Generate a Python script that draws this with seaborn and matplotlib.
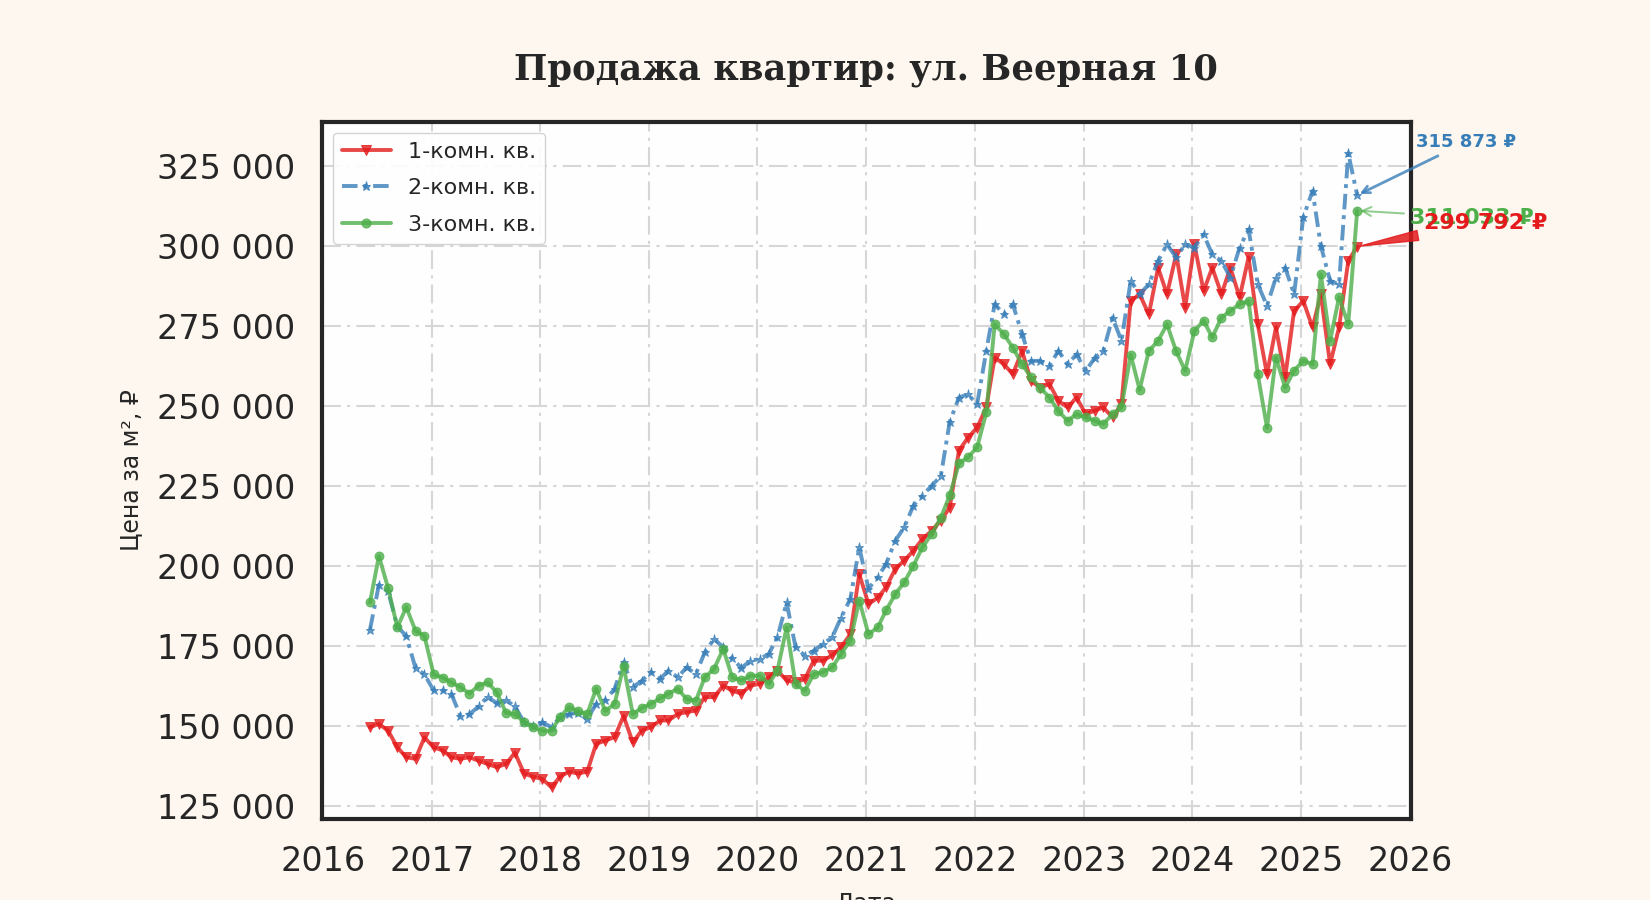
import pandas as pd
import matplotlib.pyplot as plt
import matplotlib.dates as mdates
import matplotlib.ticker as mticker
import seaborn as sns

# Цена за м² по месяцам, с июня 2016 по июль 2025
red_1k = [
    149500, 150500, 148400, 143200, 140100, 139600, 146300,
    143200, 142200, 140100, 139600, 140100, 139000, 138000, 137000, 138000, 141500, 135000, 134000,
    133300, 130700, 134000, 135600, 135000, 135600, 144300, 145300, 146400, 153000, 144800, 148400,
    149500, 151600, 151600, 153600, 154200, 154700, 158900, 158900, 162500, 160900, 160000, 162500,
    163000, 165100, 167200, 164100, 163500, 164500, 170300, 170300, 172000, 174500, 178600, 197400,
    188000, 190000, 193200, 199000, 201600, 204700, 208300, 210900, 214100, 218200, 236000, 240000,
    243200, 249500, 265100, 263000, 259900, 267200, 257800, 255700, 256800, 251600, 249500, 252600,
    247400, 248500, 249500, 246400, 250500, 282800, 284900, 278600, 293200, 284900, 297400, 280700,
    300500, 285900, 293200, 284900, 293200, 283900, 296400, 275500, 259900, 274500, 258900, 279700,
    282800, 274500, 284900, 263000, 274500, 295300, 299792,
]
blue_2k = [
    180000, 194000, 192000, 181000, 178000, 168000, 166000,
    161000, 161000, 160000, 153000, 153500, 156000, 159000, 157000, 158000, 156000, 151000, 150000,
    151000, 149500, 152600, 153600, 154000, 152000, 156800, 158000, 161500, 169800, 162000, 164000,
    166700, 164600, 167200, 165100, 168200, 166100, 172900, 177100, 174500, 171000, 168000, 170300,
    170800, 172400, 177600, 188500, 174500, 171900, 173400, 175500, 177600, 183800, 189600, 205700,
    192800, 196400, 200500, 207800, 212000, 218800, 221900, 225000, 228000, 245000, 252600, 253600,
    250500, 267200, 281800, 278600, 281800, 272400, 264000, 264100, 262500, 267200, 263000, 266100,
    260900, 265100, 267200, 277600, 270300, 289100, 284900, 288000, 295300, 300500, 296400, 300500,
    299500, 303600, 297400, 295300, 290100, 299500, 305200, 288000, 281300, 290100, 293200, 284900,
    309000, 317200, 300000, 289100, 288000, 329000, 315873,
]
green_3k = [
    188500, 203000, 193000, 180700, 187000, 179700, 178000,
    166000, 165000, 163500, 162000, 160000, 162500, 163500, 160400, 154000, 153600, 151000, 149500,
    148400, 148400, 152600, 155800, 154500, 153600, 161500, 154600, 156800, 168700, 153600, 155500,
    156800, 158500, 160000, 161500, 158300, 157800, 165100, 167700, 174000, 165100, 164100, 165600,
    165600, 163000, 167200, 180700, 163000, 160900, 166100, 166700, 168200, 172400, 176600, 189100,
    178600, 180700, 186000, 191100, 194800, 200000, 205700, 209900, 215000, 222000, 232000, 233900,
    237000, 248000, 275500, 272400, 268200, 263000, 258900, 255700, 252600, 248400, 245300, 247400,
    246400, 245300, 244300, 247400, 249500, 266000, 255000, 267200, 270300, 275500, 267000, 261000,
    273400, 276600, 271400, 277600, 279700, 281800, 282800, 259900, 243200, 265100, 255700, 261000,
    264100, 263000, 291100, 270300, 283900, 275500, 311033,
]

labels = ['1-комн. кв.', '2-комн. кв.', '3-комн. кв.']
colors = ['#e41a1c', '#377eb8', '#4daf4a']
markers = ['v', '*', 'o']

n = len(red_1k)
dates = pd.date_range('2016-06-01', periods=n, freq='MS') + pd.Timedelta(days=7)

df = pd.DataFrame({
    'Дата': list(dates) * 3,
    'Цена': red_1k + blue_2k + green_3k,
    'Тип': [labels[0]] * n + [labels[1]] * n + [labels[2]] * n,
})

sns.set_theme(style='whitegrid')
plt.rcParams['font.family'] = ['DejaVu Sans']

fig, ax = plt.subplots(figsize=(16.5, 9), dpi=100)
fig.patch.set_facecolor('#fdf7ef')
ax.set_facecolor('#fefefe')

sns.lineplot(
    data=df, x='Дата', y='Цена', hue='Тип', style='Тип',
    palette=dict(zip(labels, colors)),
    markers=dict(zip(labels, markers)),
    dashes={labels[0]: '', labels[1]: (4, 1.5, 1, 1.5), labels[2]: ''},
    linewidth=2.8, markersize=6.5, alpha=0.8, errorbar=None, ax=ax,
)
for line in ax.lines:
    line.set_markeredgecolor(line.get_color())
    line.set_markeredgewidth(0.6)

# легенда без заголовка
old = ax.get_legend()
handles = old.legend_handles
texts = [t.get_text() for t in old.texts]
for h in handles:
    h.set_markeredgecolor(h.get_color())
ax.legend(handles, texts, loc='upper left', fontsize=16, handlelength=2.2,
          labelspacing=0.75, frameon=True, facecolor='white', edgecolor='#d0d0d0',
          framealpha=0.9)

# подписи последних значений
last = dates[-1]
ax.annotate(f'{blue_2k[-1]:,} ₽'.replace(',', ' '), xy=(last, blue_2k[-1]),
            xytext=(42, 38), textcoords='offset points', ha='left', va='center',
            fontsize=13, fontweight='bold', color='#377eb8',
            arrowprops=dict(arrowstyle='->', color='#377eb8', lw=2, alpha=0.8))
ax.annotate(f'{green_3k[-1]:,} ₽'.replace(',', ' '), xy=(last, green_3k[-1]),
            xytext=(38, -5), textcoords='offset points', ha='left', va='center',
            fontsize=16, fontweight='bold', color='#4daf4a',
            arrowprops=dict(arrowstyle='->', color='#4daf4a', lw=1.5, alpha=0.6))
ax.annotate(f'{red_1k[-1]:,} ₽'.replace(',', ' '), xy=(last, red_1k[-1]),
            xytext=(48, 17), textcoords='offset points', ha='left', va='center',
            fontsize=16, fontweight='bold', color='#e41a1c',
            arrowprops=dict(arrowstyle='wedge,tail_width=0.45', color='#e41a1c', alpha=0.85))

ax.set_xlim(pd.Timestamp('2015-12-29'), pd.Timestamp('2026-01-04'))
ax.yaxis.set_major_locator(mticker.MultipleLocator(25000))
ax.yaxis.set_major_formatter(mticker.FuncFormatter(lambda v, p: f'{int(v):,}'.replace(',', ' ')))
ax.xaxis.set_major_locator(mdates.YearLocator())
ax.xaxis.set_major_formatter(mdates.DateFormatter('%Y'))

ax.grid(True, color='#d6d6d6', linewidth=1.5, linestyle=(0, (9, 3, 1.5, 3)))
ax.tick_params(axis='both', labelsize=24, pad=19, length=0, colors='#262626')
for s in ax.spines.values():
    s.set_color('#262626')
    s.set_linewidth(3)

ax.set_title('Продажа квартир: ул. Веерная 10', fontsize=25.5, fontweight='bold',
             family='DejaVu Serif', color='#262626', pad=30)
ax.set_ylabel('Цена за м², ₽', fontsize=17, labelpad=10, color='#262626')
ax.set_xlabel('Дата', fontsize=17, labelpad=10, color='#262626')

fig.subplots_adjust(left=0.195, right=0.855, top=0.865, bottom=0.09)
fig.savefig('out.png', dpi=100, facecolor=fig.get_facecolor())
